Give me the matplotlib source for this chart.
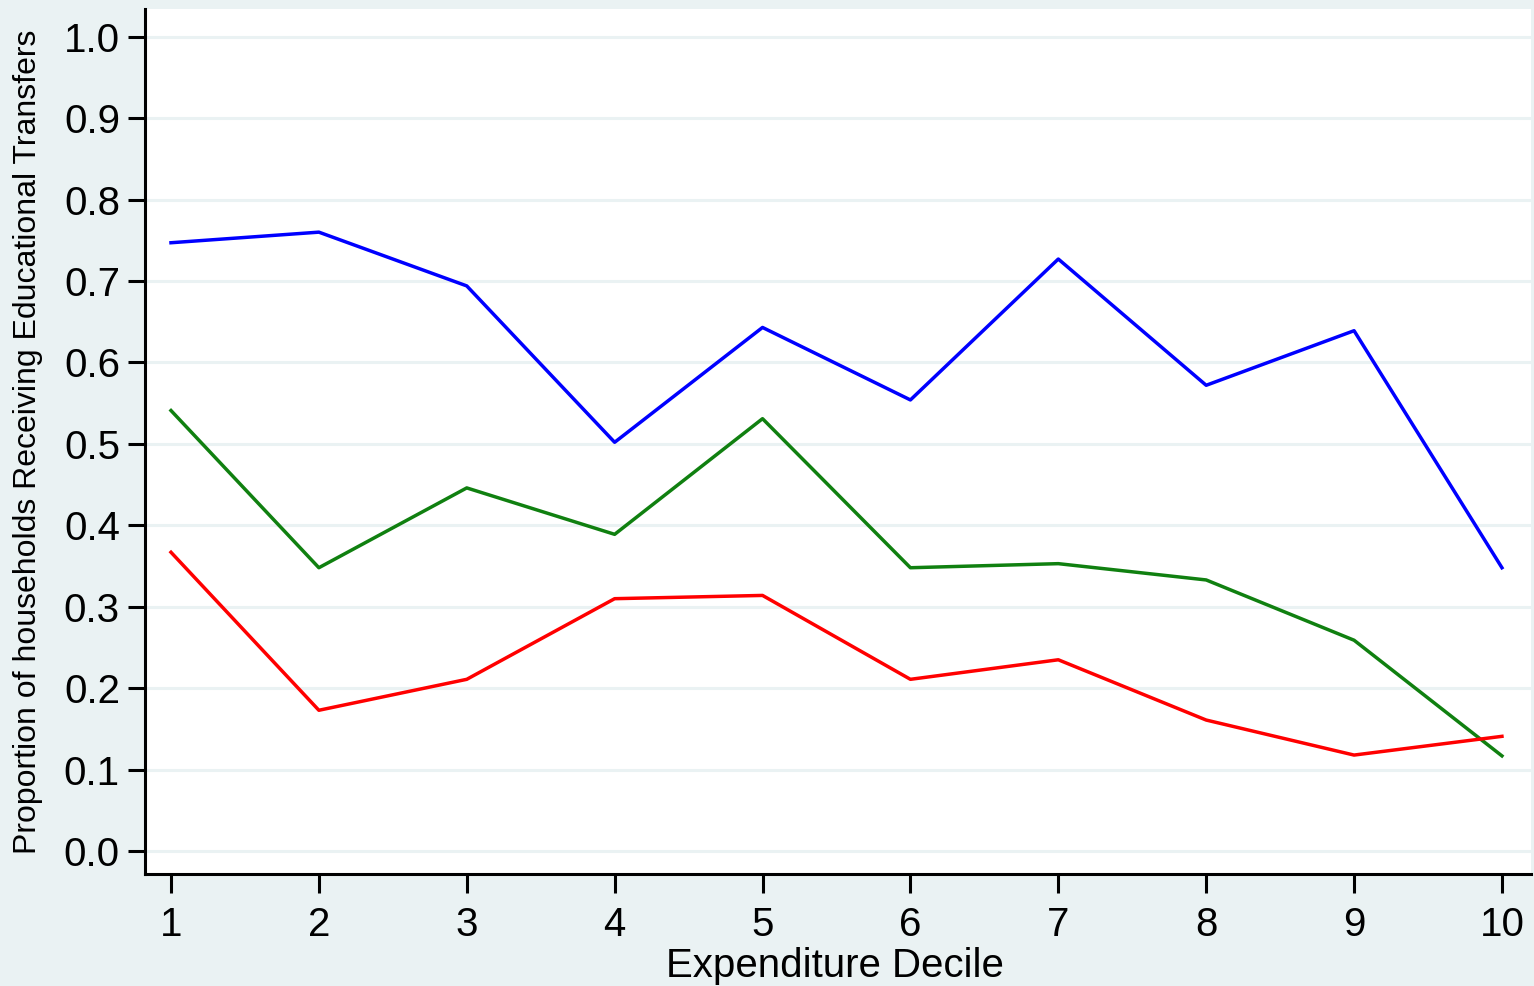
import matplotlib.pyplot as plt

plt.rcParams['font.family'] = ['Liberation Sans', 'DejaVu Sans']

deciles = [1, 2, 3, 4, 5, 6, 7, 8, 9, 10]
blue_vals = [0.747, 0.760, 0.694, 0.502, 0.643, 0.554, 0.727, 0.572, 0.639, 0.348]
green_vals = [0.541, 0.348, 0.446, 0.389, 0.531, 0.348, 0.353, 0.333, 0.259, 0.117]
red_vals = [0.367, 0.173, 0.211, 0.310, 0.314, 0.211, 0.235, 0.161, 0.118, 0.141]
yticks = [0.0, 0.1, 0.2, 0.3, 0.4, 0.5, 0.6, 0.7, 0.8, 0.9, 1.0]

bg = "#eaf2f3"

fig = plt.figure(figsize=(15.34, 9.86), dpi=100, facecolor=bg)
ax = fig.add_axes([0.0945, 0.1136, 0.9035, 0.8773])
ax.set_facecolor("white")

for y in yticks:
    ax.axhline(y, color=bg, lw=2.2, zorder=0)

ax.plot(deciles, blue_vals, color="#0000ff", lw=2.5)
ax.plot(deciles, green_vals, color="#108010", lw=2.5)
ax.plot(deciles, red_vals, color="#ff0000", lw=2.5)

ax.set_xlim(0.824, 10.196)
ax.set_ylim(-0.028, 1.034)
ax.set_xticks(deciles)
ax.set_yticks(yticks)
ax.set_yticklabels(["%.1f" % v for v in yticks])

for s in ["top", "right"]:
    ax.spines[s].set_visible(False)
for s in ["left", "bottom"]:
    ax.spines[s].set_linewidth(2.2)
ax.tick_params(axis="both", labelsize=29, width=2.2, length=12, pad=6)
ax.tick_params(axis="x", length=14, pad=9)

ax.set_ylabel("Proportion of households Receiving Educational Transfers", fontsize=23, va="center")
ax.yaxis.set_label_coords(-0.0844, 0.5)
ax.set_xlabel("Expenditure Decile", fontsize=29, va="center")
ax.xaxis.set_label_coords(0.498, -0.106)

plt.savefig("out.png", facecolor=bg)
